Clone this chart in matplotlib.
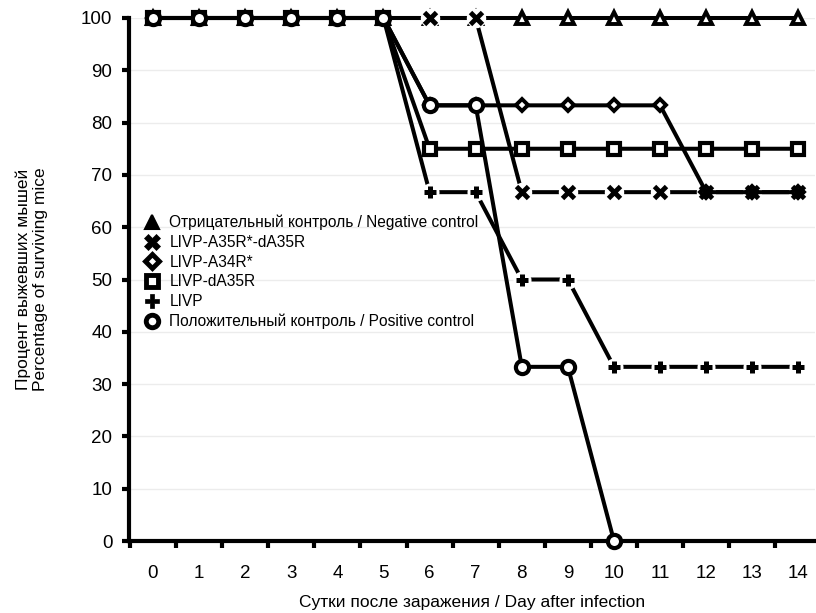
import matplotlib
matplotlib.use("Agg")
import matplotlib.pyplot as plt
from matplotlib.lines import Line2D
import numpy as np

plt.rcParams['font.family'] = ['Liberation Sans', 'DejaVu Sans']

days = list(range(15))
neg_control = [100] * 15
a35r_da35r = [100] * 8 + [66.7] * 7
a34r = [100] * 6 + [83.3] * 6 + [66.7] * 3
da35r = [100] * 6 + [75] * 9
livp = [100] * 6 + [66.7, 66.7, 50, 50] + [33.3] * 5
pos_days = list(range(11))
pos_control = [100] * 6 + [83.3, 83.3, 33.3, 33.3, 0]

labels = ["Отрицательный контроль / Negative control",
          "LIVP-A35R*-dA35R",
          "LIVP-A34R*",
          "LIVP-dA35R",
          "LIVP",
          "Положительный контроль / Positive control"]

xlabels = [str(d) for d in days]
yticks = list(range(0, 101, 10))

W, H = 816, 613
fig = plt.figure(figsize=(W / 100, H / 100), dpi=100)
ax = fig.add_axes([129 / W, 1 - 541 / H, (815 - 129) / W, (541 - 18) / H])

lw = 2.9
common = dict(color='black', lw=lw, clip_on=False, mec='black')
# negative control
ax.plot(days, neg_control, marker='^', ms=8.5, mfc='white', mew=2.8, zorder=3, **common)
# LIVP-dA35R
ax.plot(days, da35r, marker='s', ms=8, mfc='white', mew=3, zorder=4, **common)
# LIVP (with white halo around markers)
ax.plot(days, livp, zorder=5, color='black', lw=lw, clip_on=False)
ax.plot(days, livp, ls='none', marker='o', ms=13, mfc='white', mec='none',
        markevery=slice(6, None), zorder=5.1, clip_on=False)
ax.plot(days, livp, ls='none', marker='+', ms=9, mec='black', mew=3.6, zorder=5.2, clip_on=False)
# LIVP-A35R*-dA35R
ax.plot(days, a35r_da35r, zorder=6, color='black', lw=lw, clip_on=False)
ax.plot(days, a35r_da35r, ls='none', marker='o', ms=14, mfc='white', mec='none',
        markevery=slice(6, None), zorder=6.1, clip_on=False)
# LIVP-A34R*
ax.plot(days, a34r, marker='D', ms=6, mfc='white', mew=2.8, zorder=6.5, **common)
ax.plot(days, a35r_da35r, ls='none', marker='x', ms=8, mec='black', mew=3.5, zorder=7, clip_on=False)
# positive control
ax.plot(pos_days, pos_control, marker='o', ms=9.5, mfc='white', mew=3, zorder=8, **common)

ax.set_xlim(-0.52, 14.36)
ax.set_ylim(0, 100)
ax.set_xticks(days)
ax.set_xticklabels(xlabels)
ax.set_xticks(np.arange(-0.5, 14, 1.0), minor=True)
ax.tick_params(axis='x', which='major', length=0, pad=17, labelsize=13.5)
ax.tick_params(axis='x', which='minor', length=5, width=3, direction='out')
ax.set_yticks(yticks)
ax.tick_params(axis='y', which='major', length=5, width=3, direction='out', pad=7, labelsize=13.5)

for s in ['top', 'right']:
    ax.spines[s].set_visible(False)
for s in ['left', 'bottom']:
    ax.spines[s].set_linewidth(3)
ax.grid(axis='y', color='#ececec', lw=1)
ax.set_axisbelow(True)

ax.set_xlabel("Сутки после заражения / Day after infection", fontsize=12.5, labelpad=10)
ax.set_ylabel("Процент выжевших мышей\nPercentage of surviving mice", fontsize=12.5,
              labelpad=24, linespacing=1.1)

handles = [
    Line2D([], [], ls='none', marker='^', ms=10, mfc='black', mec='black', mew=1.5),
    Line2D([], [], ls='none', marker='X', ms=11, mfc='black', mec='black', mew=0.5),
    Line2D([], [], ls='none', marker='D', ms=7, mfc='white', mec='black', mew=3.5),
    Line2D([], [], ls='none', marker='s', ms=8, mfc='white', mec='black', mew=3.5),
    Line2D([], [], ls='none', marker='P', ms=10, mfc='black', mec='black', mew=0.5),
    Line2D([], [], ls='none', marker='o', ms=9, mfc='white', mec='black', mew=3.5),
]
fig.legend(handles, labels, loc='upper left', bbox_to_anchor=(146 / W, 1 - 215 / H),
           frameon=False, fontsize=11.2, handlelength=0.8, handletextpad=0.7,
           labelspacing=0.3, borderpad=0, borderaxespad=0)

fig.savefig("out.png", dpi=100, facecolor='white')
